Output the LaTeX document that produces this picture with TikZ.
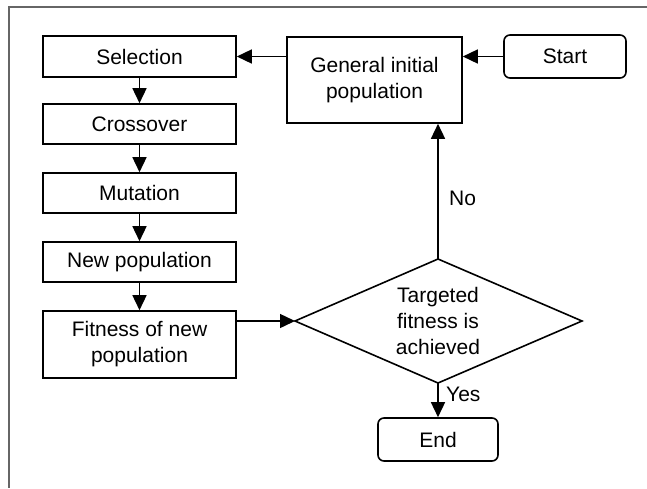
\documentclass[tikz,border=0pt]{standalone}
\usepackage{fontspec}
\setmainfont{Liberation Sans}
\usetikzlibrary{arrows.meta,calc}
\begin{document}
\begin{tikzpicture}[x=1pt,y=-1pt,
  every node/.style={font=\fontsize{21}{26}\selectfont, inner sep=0pt},
  box/.style={draw, line width=1.6pt, align=center},
  term/.style={draw, line width=1.6pt, rounded corners=6pt},
  conn/.style={line width=1.5pt, -{Triangle[length=15pt,width=14pt]}},
  lbl/.style={anchor=west}]
\useasboundingbox (0,0) rectangle (647,488);
\draw[line width=1.3pt, color=black!60] (647,7) -- (9,7) -- (9,488);

\node[box, minimum width=193pt, minimum height=41pt] (sel) at (139.5,56.5) {Selection};
\node[box, minimum width=193pt, minimum height=40pt] (cro) at (139.5,124) {Crossover};
\node[box, minimum width=193pt, minimum height=40pt] (mut) at (139.5,193) {Mutation};
\node[box, minimum width=193pt, minimum height=40pt] (newp) at (139.5,262) {New population};
\node[box, minimum width=193pt, minimum height=67pt] (fit) at (139.5,344.5) {Fitness of new\\population};
\node[box, minimum width=175pt, minimum height=86pt] (gen) at (374.5,80) {General initial\\population};
\node[term, minimum width=122pt, minimum height=43pt] (start) at (565,56.5) {Start};
\node[term, minimum width=120pt, minimum height=43pt] (end) at (438,439.5) {End};

\coordinate (dT) at (438,259);
\coordinate (dR) at (582,321);
\coordinate (dB) at (438,383);
\coordinate (dL) at (295,321);
\draw[line width=1.6pt, line join=miter] (dT) -- (dR) -- (dB) -- (dL) -- cycle;
\node[align=center] (dtext) at (438,321) {Targeted\\fitness is\\achieved};

\draw[conn] (start.west) -- (start.west -| gen.east);
\draw[conn] (gen.west |- sel.east) -- (sel.east);
\draw[conn] (sel.south) -- (cro.north);
\draw[conn] (cro.south) -- (mut.north);
\draw[conn] (mut.south) -- (newp.north);
\draw[conn] (newp.south) -- (fit.north);
\draw[conn] (fit.east |- dL) -- (dL);
\draw[conn] (dT) -- (dT |- gen.south);
\draw[conn] (dB) -- (end.north);

\node[lbl] (no) at (449,198) {No};
\node[lbl] (yes) at (446,394) {Yes};
\end{tikzpicture}
\end{document}
